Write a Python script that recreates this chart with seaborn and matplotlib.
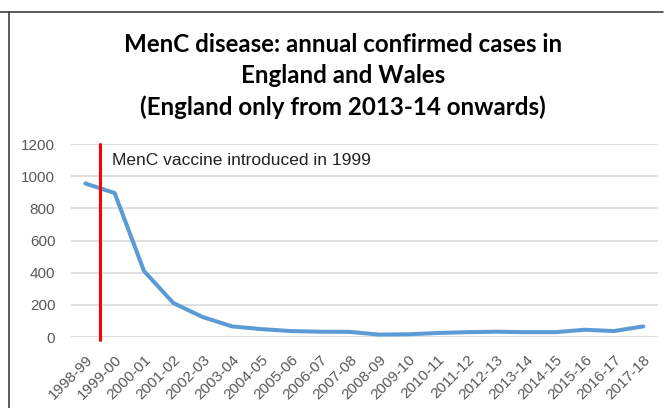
import matplotlib
matplotlib.use("Agg")
import matplotlib.pyplot as plt
from matplotlib.lines import Line2D
import seaborn as sns
import pandas as pd

seasons = ["1998-99", "1999-00", "2000-01", "2001-02", "2002-03", "2003-04",
           "2004-05", "2005-06", "2006-07", "2007-08", "2008-09", "2009-10",
           "2010-11", "2011-12", "2012-13", "2013-14", "2014-15", "2015-16",
           "2016-17", "2017-18"]
cases = [955, 895, 410, 211, 124, 66, 49, 37, 33, 32, 15, 17,
         25, 30, 33, 30, 30, 45, 37, 66]
yticks = [0, 200, 400, 600, 800, 1000, 1200]

df = pd.DataFrame({"season": seasons, "cases": cases})
df["pos"] = range(len(df))

sns.set_theme(style="white")
plt.rcParams["font.family"] = ["Liberation Sans", "DejaVu Sans"]

fig = plt.figure(figsize=(6.66, 4.08), dpi=100)
ax = fig.add_axes([0.106, 0.174, 0.882, 0.473])

sns.lineplot(data=df, x="pos", y="cases", color="#5B9BD5", linewidth=2.9, ax=ax)

# vaccine introduction marker
ax.axvline(0.5, ymin=-0.015, ymax=1.0, color="#FF0000", linewidth=2.2, clip_on=False, zorder=3)
ax.text(0.9, 1100, "MenC vaccine introduced in 1999", fontsize=12.5, color="#222222",
        va="center", ha="left")

ax.set_xlim(-0.5, len(seasons) - 0.5)
ax.set_ylim(0, 1200)
ax.set_yticks(yticks)
ax.set_yticklabels([str(v) for v in yticks], color="#595959", fontsize=11)
ax.set_xticks(df["pos"])
ax.set_xticklabels(seasons, rotation=45, ha="right", rotation_mode="anchor",
                   color="#595959", fontsize=11)
ax.tick_params(axis="y", length=0, pad=11)
ax.tick_params(axis="x", length=0, pad=11)
ax.grid(axis="y", color="#D9D9D9", linewidth=1.2)
ax.set_axisbelow(True)
ax.set_xlabel("")
ax.set_ylabel("")
for s in ax.spines.values():
    s.set_visible(False)

fig.text(0.515, 0.814,
         "MenC disease: annual confirmed cases in\nEngland and Wales\n(England only from 2013-14 onwards)",
         ha="center", va="center", fontsize=17.4, fontweight="bold",
         family=["Lato", "DejaVu Sans"], linespacing=1.42, color="black")

# chart frame lines
fig.add_artist(Line2D([0, 663 / 666], [1 - 12 / 408, 1 - 12 / 408], color="#404040", linewidth=1.2))
fig.add_artist(Line2D([9 / 666, 9 / 666], [0, 1 - 12 / 408], color="#404040", linewidth=1.2))

fig.savefig("out.png", dpi=100)
